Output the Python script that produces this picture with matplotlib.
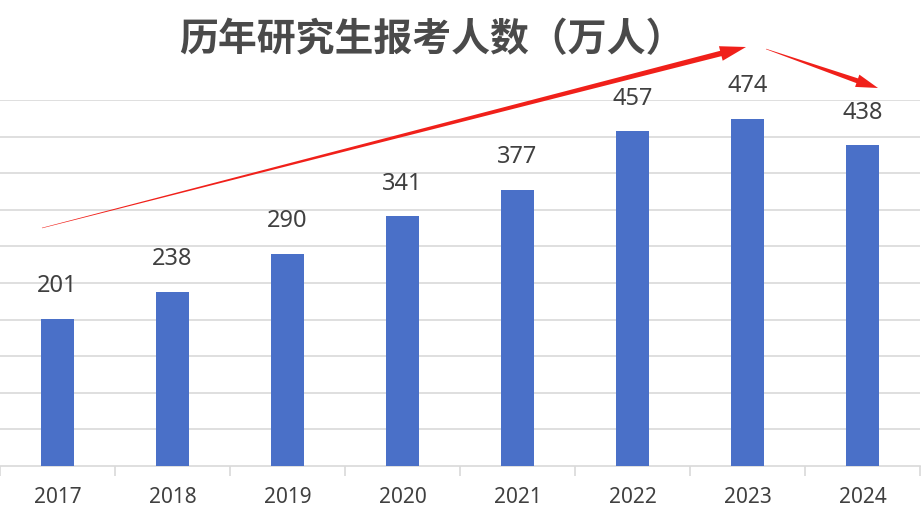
#!/usr/bin/env python3
"""
历年研究生报考人数 柱状图
"""
import matplotlib
matplotlib.use('Agg')
import matplotlib.pyplot as plt
from matplotlib.patches import Polygon
import numpy as np

plt.rcParams['font.family'] = ['Noto Sans CJK SC', 'DejaVu Sans']

years = ['2017', '2018', '2019', '2020', '2021', '2022', '2023', '2024']
applicants = [201, 238, 290, 341, 377, 457, 474, 438]

BAR_COLOR = '#4a70c8'
GRID_COLOR = '#d9d9d9'
TEXT_COLOR = '#404040'


def arrow_polygon(tail, tip, tail_w, shaft_w, head_len, head_w):
    """先细后粗的箭头（像素坐标）"""
    tail = np.array(tail, float)
    tip = np.array(tip, float)
    d = tip - tail
    L = np.hypot(*d)
    u = d / L
    n = np.array([-u[1], u[0]])
    base = tip - u * head_len
    pts = [tail + n * tail_w / 2,
           base + n * shaft_w / 2,
           base + n * head_w / 2,
           tip,
           base - n * head_w / 2,
           base - n * shaft_w / 2,
           tail - n * tail_w / 2]
    return pts


def main():
    W, H = 921, 515
    fig = plt.figure(figsize=(W / 100, H / 100), dpi=100)
    ax = fig.add_axes([0, 49 / H, 920 / W, (466 - 100) / H])

    x = np.arange(len(years))
    ax.bar(x, applicants, width=0.29, color=BAR_COLOR, zorder=3)

    for xi, v in zip(x, applicants):
        ax.annotate(str(v), (xi, v), xytext=(0, 15), textcoords='offset points',
                    ha='center', va='bottom', fontsize=17, color=TEXT_COLOR,
                    family=['Noto Sans', 'DejaVu Sans'])

    ax.set_xlim(-0.5, len(years) - 0.5)
    ax.set_ylim(0, 500)
    ax.set_yticks(np.arange(50, 501, 50))
    ax.yaxis.grid(True, color=GRID_COLOR, linewidth=1.2, zorder=0)
    ax.tick_params(axis='y', left=False, labelleft=False)

    ax.set_xticks(x)
    ax.set_xticklabels(years, fontsize=15, color=TEXT_COLOR,
                       family=['Noto Sans', 'DejaVu Sans'])
    ax.set_xticks(np.arange(-0.5, len(years), 1.0), minor=True)
    ax.tick_params(axis='x', which='major', length=0, pad=15)
    ax.tick_params(axis='x', which='minor', length=7, color=GRID_COLOR, width=1.2)

    for s in ['top', 'right', 'left']:
        ax.spines[s].set_visible(False)
    ax.spines['bottom'].set_color(GRID_COLOR)
    ax.spines['bottom'].set_linewidth(1.2)

    fig.text(432 / W, 1 - 40 / H, '历年研究生报考人数（万人）', ha='center', va='center',
             fontsize=28, fontweight='bold', color='#4a4a4a')

    # 红色趋势箭头（像素坐标，y向下）
    def to_fig(pts):
        return [(px / W, 1 - py / H) for px, py in pts]

    a1 = arrow_polygon((42, 228), (746, 47), 0.5, 5.5, 26, 15)
    a2 = arrow_polygon((766, 49), (878, 88), 0.5, 5, 22, 13)
    for pts in (a1, a2):
        fig.patches.append(Polygon(to_fig(pts), closed=True, transform=fig.transFigure,
                                   facecolor='#f0201a', edgecolor='none', zorder=10))

    fig.savefig('out.png', dpi=100)
    plt.close(fig)


if __name__ == '__main__':
    main()
